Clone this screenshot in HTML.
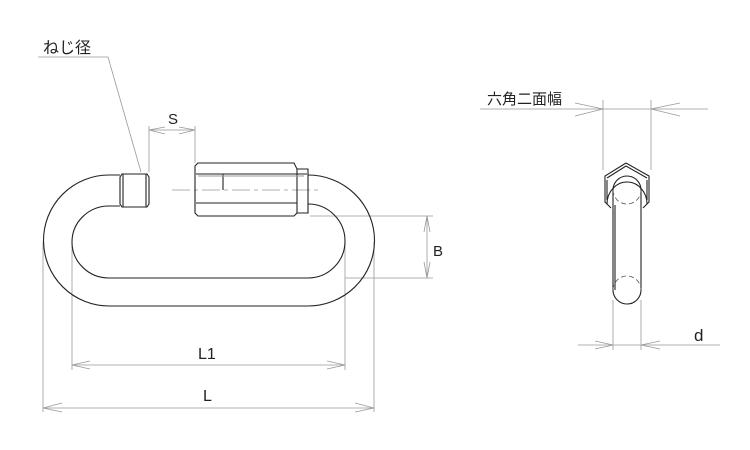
<!DOCTYPE html>
<html><head><meta charset="utf-8"><style>
html,body{margin:0;padding:0;background:#fff}
svg{display:block}
text{font-family:"Liberation Sans","Noto Sans CJK JP",sans-serif;fill:#222}
</style></head><body>
<svg width="750" height="450" viewBox="0 0 750 450" xmlns="http://www.w3.org/2000/svg">
<g fill="none" stroke="#999" stroke-width="0.8">
<polyline points="38,57 108,57 141,172"/>
<line x1="149" y1="126" x2="149" y2="172"/>
<line x1="195" y1="126" x2="195" y2="163"/>
<line x1="149" y1="130" x2="195" y2="130"/>
<polyline points="165,127 149,130 165,134"/><polyline points="179,127 195,130 179,134"/>
<line x1="310" y1="216" x2="433" y2="216"/>
<line x1="345" y1="278" x2="433" y2="278"/>
<line x1="427" y1="216" x2="427" y2="278"/>
<polyline points="424,232 427,216 430,232"/><polyline points="424,262 427,278 430,262"/>
<line x1="72" y1="242" x2="72" y2="370"/>
<line x1="345" y1="242" x2="345" y2="370"/>
<line x1="72" y1="365" x2="345" y2="365"/>
<polyline points="90,361 72,365 90,369"/><polyline points="327,361 345,365 327,369"/>
<line x1="43" y1="242" x2="43" y2="412"/>
<line x1="374" y1="242" x2="374" y2="412"/>
<line x1="43" y1="408" x2="374" y2="408"/>
<polyline points="62,403 43,408 62,412"/><polyline points="355,403 374,408 355,412"/>
<line x1="480" y1="109" x2="708" y2="109"/>
<line x1="603" y1="100" x2="603" y2="170"/>
<line x1="651" y1="100" x2="651" y2="170"/>
<polyline points="575,103 603,109 575,116"/><polyline points="680,103 651,109 680,116"/>
<line x1="613" y1="300" x2="613" y2="350"/>
<line x1="641" y1="300" x2="641" y2="350"/>
<line x1="578" y1="345" x2="720" y2="345"/>
<polyline points="595,341 613,345 595,349"/><polyline points="660,341 641,345 660,349"/>
<line x1="172" y1="190" x2="320" y2="190" stroke-dasharray="18,4,4,4"/>
</g>
<g fill="none" stroke="#222" stroke-width="1.1">
<path d="M120,175 L109,175 A65,65 0 0 0 109,306 L308,306 A66,65 0 0 0 308,175"/>
<path d="M120,206 L109,206 A37,36 0 0 0 109,278 L308,278 A37,37 0 0 0 308,204"/>
<path d="M122,174 L147,174 L149,177 L149,204 L147,207 L122,207 L120,204 L120,177 Z"/>
<line x1="123" y1="174" x2="123" y2="207"/><line x1="146" y1="174" x2="146" y2="207"/>
<path d="M198,163 L294,163 L297,169 L308,169 L308,213 L297,213 L294,216 L198,216 L195,213 L195,166 Z"/>
<line x1="196" y1="174" x2="307" y2="174"/>
<line x1="196" y1="203" x2="297" y2="203"/>
<line x1="297" y1="169" x2="297" y2="213"/>
<polyline points="197,174 223,174 223,190"/>
<line x1="198" y1="176" x2="304" y2="176" stroke="#999"/>
<path d="M626,163 L649,176 L649,202 L643,208 M611,208 L605,202 L605,176 L626,163"/>
<path d="M607,178 L626,166 L647,178 M607,200 L607,180 M647,200 L647,180"/>
<path d="M607,204 A20,22 0 0 1 647,204"/>
<path d="M613,290 L613,190 A14,14 0 0 1 641,190 L641,290 A14,14 0 0 1 613,290"/>
<line x1="615" y1="205" x2="615" y2="290"/>
</g>
<g fill="none" stroke="#555" stroke-width="0.8" stroke-dasharray="5,3">
<path d="M613,190 A14,14 0 0 0 641,190"/>
<path d="M613,290 A14,14 0 0 1 641,290"/>
</g>
<text x="43" y="53" font-size="16">ねじ径</text>
<text x="168" y="124" font-size="15">S</text>
<text x="433" y="256" font-size="15">B</text>
<text x="198" y="359" font-size="16">L1</text>
<text x="203" y="401" font-size="16">L</text>
<text x="487" y="104" font-size="15">六角二面幅</text>
<text x="694" y="341" font-size="17">d</text>
</svg>
</body></html>
